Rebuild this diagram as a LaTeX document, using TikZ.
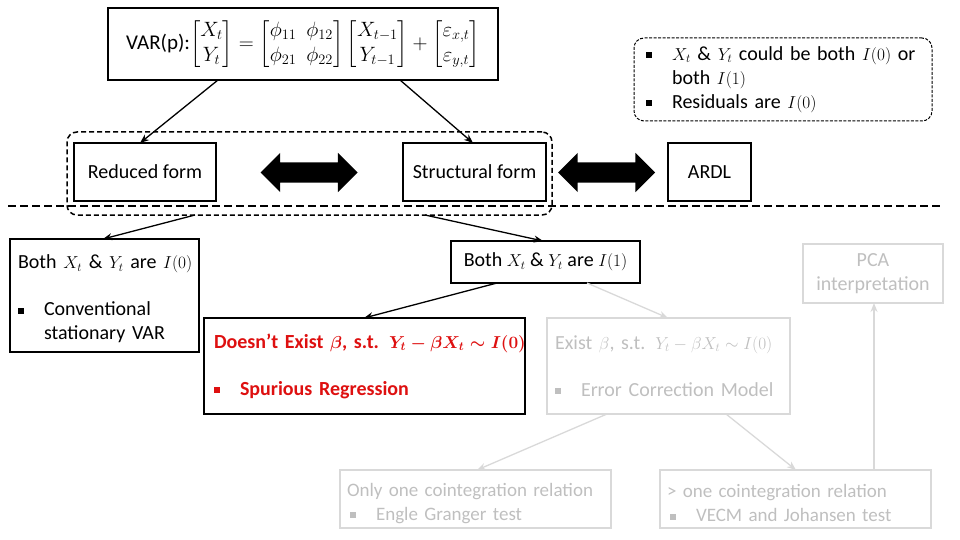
\documentclass[tikz,border=0pt]{standalone}
\usepackage{amsmath}
\usepackage{amssymb}
\usepackage{fontspec}
\setmainfont{Carlito}
\DeclareMathSizes{21}{19.5}{14}{10}
\DeclareMathSizes{20}{17}{12}{9}
\DeclareMathSizes{19}{16.5}{12}{9}
\usepackage{tikz}
\usetikzlibrary{shapes.arrows, arrows.meta}
\definecolor{fadeline}{RGB}{217,217,217}
\definecolor{fadetext}{RGB}{191,191,191}
\definecolor{alertred}{RGB}{222,16,16}
\newcommand{\sqb}{\makebox[26pt][l]{\rule[2pt]{6pt}{6pt}}}
\tikzset{
    chart/.style={font=\fontsize{20}{24}\selectfont, x=1pt, y=-1pt},
    chart box/.style={draw, line width=1.4pt, anchor=north west,
        inner xsep=8pt, inner ysep=0pt, outer sep=0pt, align=center},
    fade box/.style={chart box, draw=fadeline, text=fadetext, line width=1.2pt},
    group box/.style={draw, dash pattern=on 5pt off 3pt, line width=1.5pt,
        rounded corners=10pt, anchor=north west, inner sep=0pt, outer sep=0pt},
    note box/.style={group box, dash pattern=on 3pt off 1.5pt, line width=1pt},
    split line/.style={dash pattern=on 8pt off 4pt, line width=2pt},
    chart arrow/.style={-{Stealth[length=9pt, width=7pt]}, line width=1.3pt},
    fade arrow/.style={chart arrow, draw=fadeline, fill=fadeline},
    swap arrow/.style={double arrow, fill=black, inner xsep=0pt, inner ysep=10pt,
        minimum height=97pt, minimum width=39pt,
        double arrow head extend=9.5pt, double arrow tip angle=90},
}
\begin{document}
\begin{tikzpicture}[chart]
    \useasboundingbox (0,0) rectangle (960,540);

    % model and its two forms
    \node[chart box, minimum width=390pt, minimum height=72pt,
          font=\fontsize{21}{25}\selectfont] (var) at (108,8)
        {VAR(p):$\begin{bmatrix}X_t\\Y_t\end{bmatrix}=
         \begin{bmatrix}\phi_{11}&\phi_{12}\\\phi_{21}&\phi_{22}\end{bmatrix}
         \begin{bmatrix}X_{t-1}\\Y_{t-1}\end{bmatrix}+
         \begin{bmatrix}\varepsilon_{x,t}\\\varepsilon_{y,t}\end{bmatrix}$};
    \node[note box, minimum width=298pt, minimum height=83pt, align=left,
          text width=274pt, inner xsep=12pt] (note) at (634,38)
        {\sqb\mbox{$X_t$ \& $Y_t$ could be both $I(0)$ or}\\
         \hspace*{26pt}both $I(1)$\\
         \sqb Residuals are $I(0)$};
    \node[group box, minimum width=485pt, minimum height=83pt] (grp) at (67,132) {};
    \node[chart box, minimum width=142pt, minimum height=58pt] (reduced) at (74,143) {Reduced form};
    \node[chart box, minimum width=143pt, minimum height=58pt] (structural) at (403,143) {Structural form};
    \node[chart box, minimum width=83pt, minimum height=58pt] (ardl) at (668,143) {ARDL};
    \node[swap arrow] (swapA) at (309,172.5) {};
    \node[swap arrow] (swapB) at (606.5,172.5) {};

    \draw[split line] (8,206) -- (943,206);

    % integration order cases
    \node[chart box, minimum height=113pt, text width=173pt, align=left] (bothzero) at (10,239)
        {\rule{0pt}{21pt}\mbox{Both $X_t$ \& $Y_t$ are $I(0)$}\\[23pt]
         \sqb Conventional\\\hspace*{26pt}stationary VAR};
    \node[chart box, minimum width=189pt, minimum height=42pt] (bothone) at (451,241)
        {Both $X_t$ \& $Y_t$ are $I(1)$};
    \node[chart box, minimum height=96pt, text width=301pt, inner xsep=10pt, align=left,
          text=alertred, font=\fontsize{20}{24}\selectfont\bfseries] (nocoint) at (204,318)
        {\mbox{Doesn’t Exist $\boldsymbol{\beta}$, s.t. $\boldsymbol{Y_t-\beta X_t\sim I(0)}$}\\[23pt]
         \sqb Spurious Regression};
    \node[fade box, minimum height=96pt, text width=227pt, align=left] (coint) at (547,318)
        {\mbox{Exist $\beta$, s.t. $Y_t-\beta X_t\sim I(0)$}\\[23pt]
         \sqb\mbox{Error Correction Model}};
    \node[fade box, minimum width=140pt, minimum height=59pt] (pca) at (803,244)
        {PCA\\interpretation};
    \node[fade box, minimum height=58pt, text width=257pt, inner xsep=7pt, align=left,
          font=\fontsize{19}{24}\selectfont] (single) at (340,470)
        {\rule{0pt}{22pt}\mbox{Only one cointegration relation}\\
         \hspace*{3pt}\sqb Engle Granger test};
    \node[fade box, minimum height=58pt, text width=257pt, inner xsep=7pt, align=left,
          font=\fontsize{19}{24}\selectfont] (multi) at (660,470)
        {\rule{0pt}{22pt}\mbox{\textgreater{} one cointegration relation}\\
         \hspace*{3pt}\sqb VECM and Johansen test};

    % connectors
    \draw[chart arrow] ([xshift=110pt]var.south west) -- ([xshift=66pt]reduced.north west);
    \draw[chart arrow] ([xshift=292pt]var.south west) -- ([xshift=70pt]structural.north west);
    \draw[chart arrow] ([xshift=128pt]grp.south west) -- ([xshift=93pt]bothzero.north west);
    \draw[chart arrow] ([xshift=358pt]grp.south west) -- ([xshift=92pt]bothone.north west);
    \draw[chart arrow] ([xshift=46pt]bothone.south west) -- ([xshift=160pt]nocoint.north west);
    \draw[fade arrow] ([xshift=136pt]bothone.south west) -- ([xshift=121pt]coint.north west);
    \draw[fade arrow] ([xshift=60pt]coint.south west) -- ([xshift=137pt]single.north west);
    \draw[fade arrow] ([xshift=179pt]coint.south west) -- ([xshift=136pt]multi.north west);
    \draw[fade arrow] ([xshift=214pt]multi.north west) -- ([xshift=71pt]pca.south west);
\end{tikzpicture}
\end{document}
